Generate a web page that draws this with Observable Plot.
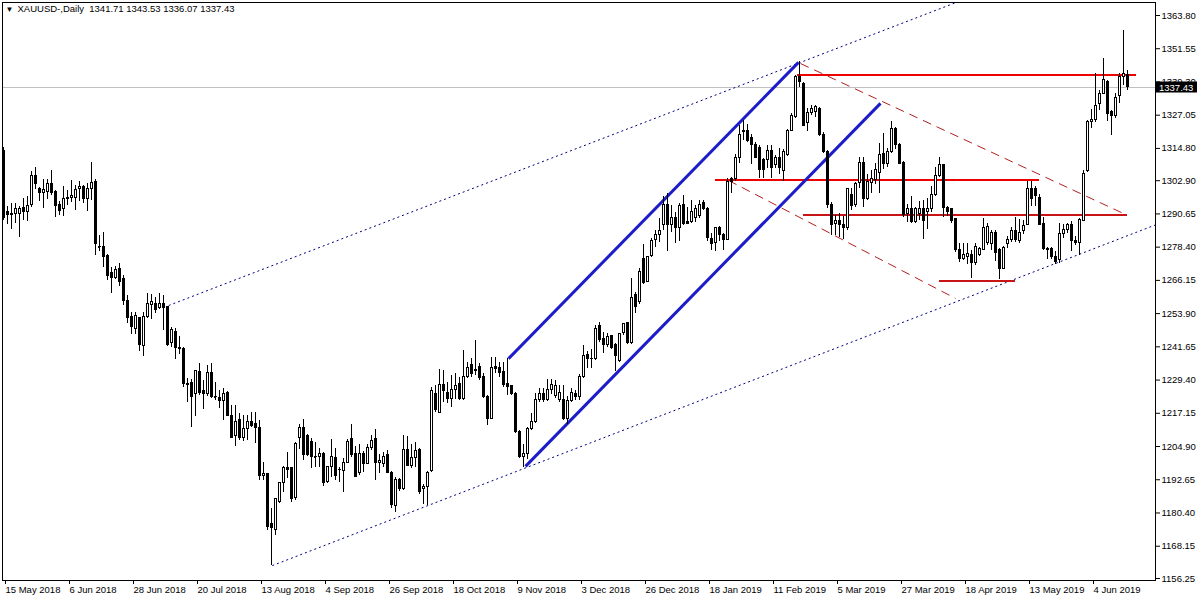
<!DOCTYPE html>
<html><head><meta charset="utf-8">
<script src="https://cdn.jsdelivr.net/npm/d3@7"></script>
<script src="https://cdn.jsdelivr.net/npm/@observablehq/plot@0.6"></script>
<style>
html,body{margin:0;padding:0;background:#fff;}
#chart{width:1200px;height:600px;overflow:hidden;}
</style></head><body><div id="chart"></div>
<script>
const symbolName = "XAUUSD-,Daily";
const dateLabels = ["15 May 2018","6 Jun 2018","28 Jun 2018","20 Jul 2018","13 Aug 2018","4 Sep 2018","26 Sep 2018","18 Oct 2018","9 Nov 2018","3 Dec 2018","26 Dec 2018","18 Jan 2019","11 Feb 2019","5 Mar 2019","27 Mar 2019","18 Apr 2019","13 May 2019","4 Jun 2019"];
const dateLabelBars = [0,16,32,48,64,80,96,112,128,144,160,176,192,208,224,240,256,272];
const priceTicks = [1363.80,1351.55,1339.30,1327.05,1314.80,1302.90,1290.65,1278.40,1266.15,1253.90,1241.65,1229.40,1217.15,1204.90,1192.65,1180.40,1168.15,1156.25];

const opens = [
1314.0,1291.2,1290.4,1290.8,1290.8,1293.0,1291.2,1293.8,1304.5,1300.0,
1298.2,1298.9,1301.5,1298.9,1293.8,1292.3,1296.3,1296.7,1296.7,1299.7,
1300.4,1296.0,1299.7,1302.6,1278.6,1278.6,1275.3,1268.7,1267.2,1270.5,
1266.5,1258.7,1252.5,1248.1,1252.1,1241.8,1252.5,1256.9,1257.6,1255.8,
1257.6,1256.2,1242.9,1247.3,1241.4,1241.0,1227.8,1228.2,1224.1,1232.2,
1225.2,1224.4,1231.9,1223.3,1222.9,1221.8,1224.8,1216.3,1208.6,1214.5,
1208.2,1211.5,1213.8,1213.1,1211.9,1194.2,1194.6,1176.2,1174.3,1184.3,
1191.3,1196.8,1196.8,1186.0,1207.9,1211.9,1208.6,1206.4,1201.2,1200.9,
1202.3,1192.0,1197.2,1200.5,1196.1,1195.7,1199.0,1207.5,1202.3,1195.0,
1202.3,1198.6,1204.2,1207.5,1199.0,1198.6,1201.6,1195.3,1183.0,1192.4,
1189.1,1203.8,1197.9,1200.5,1203.8,1189.4,1189.8,1195.7,1224.4,1217.4,
1227.4,1224.8,1222.6,1225.6,1227.8,1222.6,1230.4,1235.1,1233.0,1234.4,
1230.4,1223.3,1215.2,1234.4,1233.7,1232.2,1228.1,1227.1,1224.4,1210.1,
1200.9,1202.3,1211.5,1213.8,1222.2,1224.1,1222.2,1225.9,1223.7,1221.9,
1222.2,1215.2,1221.5,1224.4,1223.3,1230.7,1238.7,1237.0,1237.0,1249.2,
1244.4,1242.5,1245.5,1242.5,1236.6,1246.6,1250.3,1242.9,1260.6,1258.0,
1274.2,1265.7,1275.3,1281.2,1282.7,1286.4,1294.1,1286.4,1289.3,1285.6,
1293.8,1287.5,1287.5,1289.3,1289.7,1294.5,1292.6,1281.5,1280.1,1285.3,
1282.7,1281.2,1303.7,1303.7,1311.4,1320.7,1321.1,1318.5,1315.9,1315.1,
1310.4,1310.4,1314.0,1308.5,1311.4,1306.3,1312.2,1321.4,1326.2,1341.0,
1338.7,1324.0,1328.0,1328.4,1329.5,1319.9,1313.3,1294.1,1287.1,1288.2,
1286.4,1285.6,1297.8,1293.8,1301.9,1309.3,1296.3,1301.9,1303.3,1305.6,
1312.9,1309.2,1313.3,1321.8,1315.9,1309.6,1290.8,1292.6,1287.5,1290.8,
1292.3,1291.5,1292.6,1297.5,1304.5,1308.5,1293.0,1292.3,1288.6,1277.2,
1274.2,1274.6,1275.6,1272.4,1275.6,1277.5,1280.0,1279.7,1283.8,1277.2,
1270.5,1279.7,1281.2,1284.2,1280.5,1284.2,1286.6,1300.0,1299.7,1296.7,
1287.1,1277.9,1277.9,1274.9,1273.5,1283.1,1284.9,1286.4,1280.5,1280.1,
1288.2,1306.3,1324.7,1325.4,1331.0,1335.0,1339.4,1328.1,1326.6,1334.3,
1341.3,1341.71];
const highs = [
1315.1,1293.4,1294.5,1294.5,1293.4,1296.3,1297.1,1306.3,1307.8,1300.4,
1303.3,1303.3,1306.7,1299.3,1295.2,1300.8,1299.3,1303.0,1301.1,1302.6,
1301.1,1301.9,1309.6,1303.3,1282.7,1283.8,1275.6,1270.9,1271.3,1272.4,
1268.0,1260.6,1254.3,1254.3,1252.5,1254.3,1261.3,1260.9,1259.8,1261.3,
1260.6,1256.6,1248.8,1248.4,1245.5,1241.4,1230.0,1229.6,1233.0,1235.5,
1229.2,1234.8,1235.5,1228.5,1225.6,1226.3,1225.2,1220.0,1220.0,1217.1,
1216.3,1216.3,1217.4,1217.4,1214.5,1199.0,1195.0,1182.1,1185.7,1191.6,
1197.6,1202.7,1197.2,1206.4,1213.1,1214.9,1209.3,1207.9,1206.4,1204.2,
1202.7,1197.6,1207.5,1204.2,1197.2,1200.5,1207.5,1213.1,1204.9,1205.6,
1203.1,1205.6,1208.9,1211.2,1202.0,1202.7,1203.4,1195.7,1193.5,1193.1,
1208.9,1208.6,1205.6,1206.4,1204.2,1190.8,1195.7,1226.7,1227.4,1233.3,
1232.9,1228.5,1231.1,1231.9,1230.4,1240.3,1235.9,1237.3,1244.0,1235.5,
1231.9,1223.7,1237.7,1237.7,1235.9,1235.9,1237.3,1227.4,1224.8,1210.8,
1205.6,1211.9,1217.1,1224.4,1226.3,1226.3,1229.6,1229.6,1229.2,1227.4,
1227.4,1223.3,1226.3,1225.6,1231.5,1242.0,1239.9,1240.7,1249.5,1250.6,
1247.0,1246.6,1245.8,1242.9,1246.6,1250.3,1250.6,1266.8,1261.7,1270.5,
1279.4,1275.0,1281.5,1284.5,1289.0,1297.1,1298.2,1293.8,1291.2,1294.5,
1297.5,1293.0,1295.6,1293.8,1295.6,1295.6,1293.0,1283.4,1285.6,1286.0,
1283.4,1303.7,1304.0,1312.5,1323.4,1325.1,1323.6,1320.0,1317.0,1315.9,
1311.1,1315.9,1315.9,1312.1,1314.8,1314.4,1321.8,1327.7,1341.7,1346.9,
1339.1,1329.5,1330.6,1330.6,1329.9,1320.7,1314.0,1294.9,1290.1,1290.8,
1289.7,1300.0,1300.0,1302.3,1311.4,1311.4,1305.2,1306.7,1309.2,1316.6,
1320.3,1314.8,1324.7,1322.5,1316.6,1309.9,1294.1,1297.1,1293.0,1295.2,
1295.6,1296.3,1300.8,1307.8,1311.4,1308.9,1293.4,1292.6,1288.9,1279.7,
1279.7,1279.7,1277.2,1279.7,1278.3,1289.0,1287.1,1284.5,1284.5,1277.9,
1278.6,1282.3,1285.6,1289.3,1288.6,1288.2,1302.5,1302.6,1300.8,1297.8,
1289.3,1278.3,1278.3,1276.8,1287.1,1286.7,1287.1,1287.8,1282.5,1288.9,
1306.7,1325.1,1329.1,1342.4,1336.1,1347.8,1339.8,1328.8,1335.0,1342.4,
1358.3,1343.53];
const lows = [
1288.2,1286.8,1284.9,1287.1,1282.0,1288.2,1287.9,1293.0,1299.7,1295.2,
1292.6,1296.0,1297.5,1289.3,1290.1,1289.7,1293.8,1294.9,1291.9,1295.2,
1294.5,1291.5,1295.6,1275.3,1276.8,1270.9,1266.1,1261.3,1266.5,1263.9,
1256.9,1250.3,1246.2,1246.2,1239.9,1238.1,1252.1,1251.7,1253.9,1255.4,
1247.7,1241.8,1241.4,1237.0,1238.8,1226.7,1221.1,1211.9,1216.0,1223.7,
1218.6,1223.3,1222.6,1221.9,1219.0,1214.5,1216.0,1207.9,1204.9,1207.1,
1206.8,1207.1,1211.9,1206.0,1192.4,1192.4,1174.0,1161.1,1172.0,1183.9,
1188.0,1193.1,1184.3,1185.0,1203.8,1199.8,1201.2,1196.8,1197.2,1197.2,
1190.1,1191.3,1193.5,1192.4,1191.6,1188.0,1198.6,1200.9,1193.5,1194.2,
1195.3,1198.2,1203.4,1192.4,1195.0,1197.2,1194.9,1182.0,1180.6,1188.4,
1188.7,1197.5,1196.8,1197.2,1187.3,1183.4,1183.0,1195.3,1217.4,1217.1,
1221.1,1220.8,1219.3,1222.2,1221.9,1221.9,1230.0,1230.4,1231.1,1229.3,
1222.6,1212.7,1214.9,1231.9,1230.4,1226.7,1223.7,1223.7,1209.7,1200.5,
1197.2,1200.0,1210.8,1213.5,1221.1,1221.1,1221.5,1224.1,1222.6,1221.1,
1214.4,1213.0,1221.1,1221.9,1221.9,1229.9,1233.6,1233.6,1236.6,1243.3,
1239.1,1241.4,1240.7,1232.6,1235.9,1245.8,1242.5,1242.5,1253.9,1257.2,
1264.6,1265.4,1274.6,1278.2,1280.2,1284.5,1276.8,1283.8,1279.7,1280.5,
1286.4,1286.8,1287.1,1287.5,1289.0,1291.9,1280.5,1277.2,1276.8,1280.5,
1277.2,1280.8,1298.2,1302.6,1309.2,1317.7,1317.0,1309.0,1311.1,1303.7,
1303.7,1307.4,1303.7,1307.4,1305.2,1302.6,1311.9,1321.1,1325.8,1337.3,
1322.9,1321.1,1326.9,1326.2,1319.2,1312.9,1292.6,1282.7,1282.7,1281.9,
1281.2,1284.5,1291.9,1293.0,1300.0,1293.0,1295.6,1298.2,1301.5,1298.2,
1307.0,1307.8,1312.9,1314.4,1308.9,1289.3,1287.5,1287.1,1287.1,1288.2,
1281.2,1284.9,1291.2,1297.1,1304.1,1289.3,1289.7,1287.1,1276.4,1272.8,
1273.5,1272.0,1266.9,1271.7,1274.9,1277.2,1279.1,1277.2,1273.1,1266.4,
1270.1,1277.9,1280.1,1280.1,1279.7,1283.1,1286.2,1293.4,1293.4,1286.4,
1277.2,1273.9,1273.9,1272.0,1272.4,1281.5,1283.4,1276.8,1279.1,1275.3,
1287.9,1305.9,1322.1,1324.4,1328.8,1334.6,1324.7,1319.6,1325.8,1331.3,
1338.0,1336.07];
const closes = [
1289.0,1290.4,1290.8,1292.6,1292.6,1291.5,1293.4,1304.8,1301.5,1298.2,
1299.3,1301.5,1298.2,1293.4,1291.9,1296.3,1296.7,1297.4,1299.3,1300.4,
1296.0,1299.7,1302.2,1279.7,1278.3,1274.6,1267.6,1266.9,1269.8,1265.4,
1258.7,1252.1,1248.8,1253.2,1242.2,1252.5,1257.3,1258.0,1255.1,1257.6,
1255.8,1242.2,1247.7,1241.4,1241.0,1227.8,1227.4,1223.0,1232.6,1224.8,
1224.4,1231.9,1223.0,1223.0,1221.8,1224.1,1216.3,1208.2,1213.8,1208.2,
1211.5,1213.8,1212.3,1211.9,1194.2,1194.6,1175.1,1174.7,1185.4,1191.3,
1196.8,1196.4,1185.7,1206.0,1211.9,1201.6,1201.6,1201.2,1201.0,1202.0,
1191.6,1197.2,1200.9,1194.2,1196.4,1199.0,1206.4,1201.9,1193.8,1202.3,
1198.6,1204.2,1207.1,1199.0,1199.4,1201.2,1195.3,1183.4,1192.4,1189.1,
1203.8,1197.9,1200.5,1203.4,1188.0,1189.8,1195.3,1225.2,1218.2,1227.4,
1225.2,1222.6,1225.6,1227.1,1222.6,1230.4,1234.0,1231.8,1232.6,1230.0,
1223.0,1215.2,1233.7,1233.3,1231.9,1227.4,1226.7,1224.4,1210.1,1200.9,
1202.3,1211.5,1213.8,1221.9,1224.1,1221.9,1225.9,1227.4,1227.1,1224.8,
1215.2,1221.5,1224.8,1223.0,1230.7,1238.4,1237.3,1237.3,1248.1,1244.0,
1242.5,1245.1,1241.4,1238.4,1246.2,1249.9,1242.9,1259.7,1256.2,1269.4,
1265.0,1274.6,1280.8,1282.7,1284.5,1294.1,1286.4,1289.3,1285.6,1293.4,
1286.8,1287.1,1291.5,1292.3,1293.8,1292.3,1281.6,1279.7,1285.3,1282.7,
1281.2,1302.3,1302.3,1311.4,1319.6,1321.4,1317.7,1315.9,1311.4,1306.7,
1306.7,1314.0,1307.4,1311.1,1307.4,1313.3,1321.4,1326.6,1341.0,1339.1,
1323.2,1328.0,1329.5,1329.9,1319.9,1313.3,1293.8,1286.4,1287.9,1286.4,
1285.3,1299.7,1293.4,1301.5,1309.3,1296.3,1302.3,1303.7,1306.7,1312.2,
1309.2,1313.3,1321.8,1315.9,1309.2,1290.1,1292.3,1287.5,1292.6,1292.3,
1288.2,1292.6,1297.8,1304.5,1308.5,1293.0,1291.2,1288.2,1277.2,1274.2,
1275.6,1276.0,1272.4,1278.3,1277.9,1285.6,1286.0,1283.8,1276.4,1270.5,
1278.2,1281.2,1284.2,1281.2,1283.8,1286.1,1299.7,1296.3,1297.1,1286.7,
1277.9,1277.5,1274.6,1273.1,1283.1,1284.9,1286.4,1280.5,1280.1,1288.5,
1305.5,1324.4,1325.4,1330.3,1335.0,1340.1,1327.4,1326.6,1333.2,1341.3,
1342.1,1337.43];

// Drawn objects, in (bar index, price) coordinates
const dottedLines = [ // navy dotted outer channel
  {x1: 41.3, y1: 1256.9, x2: 238.0, y2: 1368.5},
  {x1: 67.2, y1: 1161.0, x2: 288.0, y2: 1286.6}
];
const channelLines = [ // blue rising channel
  {x1: 126.25, y1: 1237.3, x2: 198.75, y2: 1346.5},
  {x1: 130.5, y1: 1197.6, x2: 219.25, y2: 1331.4}
];
const dashedLines = [ // dark red falling channel
  {x1: 199.25, y1: 1346.1, x2: 280.0, y2: 1290.8},
  {x1: 181.25, y1: 1303.0, x2: 238.0, y2: 1259.5}
];
const levelPrices = [1341.9, 1303.3, 1290.2, 1266.1];
const levelStarts = [198.5, 178.0, 200.0, 234.0];
const levelEnds = [283.25, 259.0, 281.0, 253.0];
const levelColors = ["#ee0000", "#ee0000", "#c81414", "#c81414"];

const bars = opens.map((o, i) => ({i, o, h: highs[i], l: lows[i], c: closes[i]}));
const bulls = bars.filter(d => d.c >= d.o);
const bears = bars.filter(d => d.c < d.o);
const dojis = bars.filter(d => Math.abs(d.c - d.o) < 0.3);
const levels = levelPrices.map((p, k) => ({y: p, x1: levelStarts[k], x2: levelEnds[k], color: levelColors[k]}));
const last = bars[bars.length - 1];
const header = `${symbolName}  ${last.o.toFixed(2)} ${last.h.toFixed(2)} ${last.l.toFixed(2)} ${last.c.toFixed(2)}`;
const labelOf = new Map(dateLabelBars.map((b, k) => [b, dateLabels[k]]));

const FONT = "'Liberation Sans', Arial, sans-serif";
const FS = 9.5;

const plot = Plot.plot({
  width: 1200, height: 600,
  marginLeft: 2, marginRight: 45, marginTop: 2, marginBottom: 20,
  style: {fontFamily: FONT, fontSize: FS + "px", color: "#000", background: "#fff", overflow: "visible"},
  x: {domain: [-0.25, 288], label: null},
  y: {domain: [1155.51, 1368.59], label: null},
  marks: [
    Plot.ruleY([last.c], {stroke: "#c0c0c0", strokeWidth: 1, shapeRendering: "crispEdges"}),
    Plot.link(dottedLines, {x1: "x1", y1: "y1", x2: "x2", y2: "y2", stroke: "#000080", strokeWidth: 1, strokeDasharray: "2,3", clip: true}),
    Plot.link(dashedLines, {x1: "x1", y1: "y1", x2: "x2", y2: "y2", stroke: "#b41e1e", strokeWidth: 1, strokeDasharray: "9,6", clip: true}),
    Plot.ruleY(levels, {y: "y", x1: "x1", x2: "x2", stroke: d => d.color, strokeWidth: 2, shapeRendering: "crispEdges"}),
    Plot.link(channelLines, {x1: "x1", y1: "y1", x2: "x2", y2: "y2", stroke: "#1c1cc8", strokeWidth: 3}),
    Plot.ruleX(bars, {x: "i", y1: "l", y2: "h", stroke: "#000", strokeWidth: 1, shapeRendering: "crispEdges"}),
    Plot.rect(bulls, {x1: d => d.i - 0.25, x2: d => d.i + 0.25, y1: "o", y2: "c", fill: "#fff", stroke: "#000", strokeWidth: 1, shapeRendering: "crispEdges"}),
    Plot.rect(bears, {x1: d => d.i - 0.25, x2: d => d.i + 0.25, y1: "o", y2: "c", fill: "#000", stroke: "#000", strokeWidth: 1, shapeRendering: "crispEdges"}),
    Plot.ruleY(dojis, {y: "c", x1: d => d.i - 0.25, x2: d => d.i + 0.25, stroke: "#000", shapeRendering: "crispEdges"}),
    Plot.frame({stroke: "#000", shapeRendering: "crispEdges"}),
    Plot.axisX(dateLabelBars, {anchor: "bottom", tickSize: 4, tickPadding: 2, tickFormat: d => labelOf.get(d), textAnchor: "start", dx: 2, label: null, fontSize: FS}),
    Plot.axisY(priceTicks, {anchor: "right", tickSize: 4, tickPadding: 2, tickFormat: d => d.toFixed(2), label: null, fontSize: FS}),
    Plot.text(["\u25BC"], {frameAnchor: "top-left", dx: 3, dy: 4, lineAnchor: "top", textAnchor: "start", fontSize: 8}),
    Plot.text([header], {frameAnchor: "top-left", dx: 15, dy: 3, lineAnchor: "top", textAnchor: "start", fontSize: FS})
  ]
});

// current price tag on the price axis, positioned with the plot's own y scale
const yScale = plot.scale("y");
const svg = d3.select(plot);
const yy = Math.round(yScale.apply(last.c));
const xRight = 1200 - 45;
const tag = svg.append("g").attr("text-anchor", "start");
tag.append("rect").attr("x", xRight + 1).attr("y", yy - 5.5).attr("width", 41).attr("height", 11).attr("fill", "#000");
tag.append("text").attr("x", xRight + 4).attr("y", yy + 3.5).attr("fill", "#fff").attr("text-anchor", "start")
  .attr("font-family", FONT).attr("font-size", FS).text(last.c.toFixed(2));

document.getElementById("chart").appendChild(plot);
</script>
</body></html>
